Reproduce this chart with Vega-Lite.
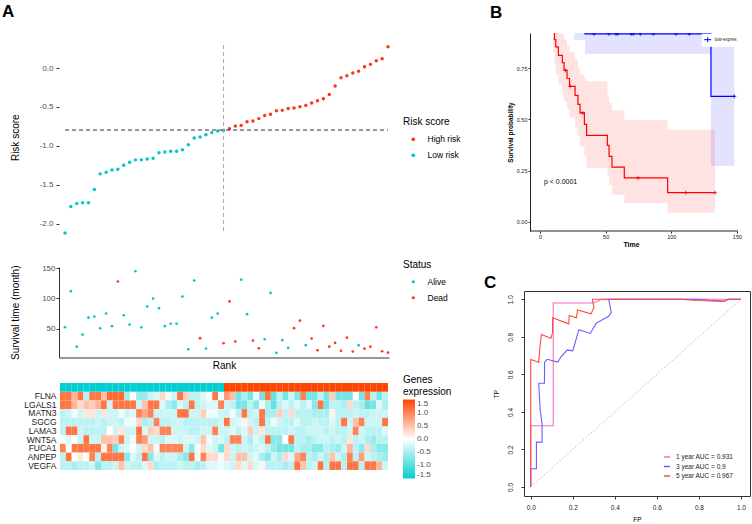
{
"$schema": "https://vega.github.io/schema/vega-lite/v6.json",
"padding": {"left": 2, "top": 3, "right": 0, "bottom": 0},
"background": "white",
"config": {
  "font": "Liberation Sans",
  "view": {"stroke": null},
  "axis": {"grid": false},
  "locale": {"number": {"decimal": ".", "thousands": ",", "grouping": [3], "currency": ["$", ""], "minus": "-"}}
},
"datasets": {
  "pts": [
    {"r":1,"k":-2.12,"g":"Low risk","t":52.2,"s":"Alive","FLNA":1.1,"LGALS1":1.1,"MATN3":-0.4,"SGCG":-0.4,"LAMA3":-0.4,"WNT5A":0.0,"FUCA1":1.0,"ANPEP":-0.4,"VEGFA":-0.4},
    {"r":2,"k":-1.78,"g":"Low risk","t":112,"s":"Alive","FLNA":1.1,"LGALS1":1.1,"MATN3":-0.3,"SGCG":-0.4,"LAMA3":1.1,"WNT5A":-0.2,"FUCA1":0.0,"ANPEP":1.1,"VEGFA":-0.4},
    {"r":3,"k":-1.74,"g":"Low risk","t":20,"s":"Alive","FLNA":0.6,"LGALS1":0.6,"MATN3":-0.1,"SGCG":-0.4,"LAMA3":1.1,"WNT5A":0.0,"FUCA1":1.1,"ANPEP":0.0,"VEGFA":-0.5},
    {"r":4,"k":-1.73,"g":"Low risk","t":40,"s":"Alive","FLNA":1.1,"LGALS1":0.3,"MATN3":-0.3,"SGCG":-0.4,"LAMA3":-0.3,"WNT5A":-0.3,"FUCA1":1.1,"ANPEP":0.2,"VEGFA":-0.4},
    {"r":5,"k":-1.73,"g":"Low risk","t":68,"s":"Alive","FLNA":-0.4,"LGALS1":0.5,"MATN3":0.2,"SGCG":-0.4,"LAMA3":-0.4,"WNT5A":1.1,"FUCA1":1.1,"ANPEP":0.0,"VEGFA":-0.4},
    {"r":6,"k":-1.56,"g":"Low risk","t":70,"s":"Alive","FLNA":1.1,"LGALS1":0.4,"MATN3":0.2,"SGCG":-0.4,"LAMA3":-0.4,"WNT5A":-0.3,"FUCA1":1.1,"ANPEP":1.0,"VEGFA":-0.3},
    {"r":7,"k":-1.36,"g":"Low risk","t":50.5,"s":"Alive","FLNA":1.1,"LGALS1":0.6,"MATN3":-0.3,"SGCG":-0.3,"LAMA3":-0.4,"WNT5A":-0.3,"FUCA1":1.1,"ANPEP":-0.4,"VEGFA":-0.7},
    {"r":8,"k":-1.34,"g":"Low risk","t":75,"s":"Alive","FLNA":0.5,"LGALS1":1.1,"MATN3":0.2,"SGCG":-0.4,"LAMA3":-0.4,"WNT5A":0.5,"FUCA1":0.1,"ANPEP":1.1,"VEGFA":-0.4},
    {"r":9,"k":-1.31,"g":"Low risk","t":54,"s":"Alive","FLNA":1.2,"LGALS1":-0.3,"MATN3":-0.3,"SGCG":-0.3,"LAMA3":0.0,"WNT5A":0.5,"FUCA1":1.0,"ANPEP":1.1,"VEGFA":-0.4},
    {"r":10,"k":-1.30,"g":"Low risk","t":128,"s":"Dead","FLNA":1.2,"LGALS1":1.1,"MATN3":-0.3,"SGCG":-0.3,"LAMA3":-0.3,"WNT5A":0.4,"FUCA1":-0.8,"ANPEP":1.1,"VEGFA":-0.3},
    {"r":11,"k":-1.25,"g":"Low risk","t":72,"s":"Alive","FLNA":1.2,"LGALS1":1.1,"MATN3":-0.1,"SGCG":-0.4,"LAMA3":0.2,"WNT5A":1.0,"FUCA1":-0.3,"ANPEP":1.1,"VEGFA":0.5},
    {"r":12,"k":-1.21,"g":"Low risk","t":56.6,"s":"Alive","FLNA":-0.5,"LGALS1":1.1,"MATN3":-0.3,"SGCG":-0.1,"LAMA3":-0.3,"WNT5A":-0.3,"FUCA1":-0.2,"ANPEP":-0.7,"VEGFA":-0.3},
    {"r":13,"k":-1.18,"g":"Low risk","t":145,"s":"Alive","FLNA":0.0,"LGALS1":1.1,"MATN3":-0.2,"SGCG":-0.1,"LAMA3":-0.3,"WNT5A":-0.1,"FUCA1":0.0,"ANPEP":-0.2,"VEGFA":-0.4},
    {"r":14,"k":-1.18,"g":"Low risk","t":52,"s":"Alive","FLNA":-0.6,"LGALS1":-0.3,"MATN3":1.0,"SGCG":0.3,"LAMA3":1.1,"WNT5A":1.0,"FUCA1":-0.3,"ANPEP":-0.4,"VEGFA":-0.4},
    {"r":15,"k":-1.17,"g":"Low risk","t":86.5,"s":"Alive","FLNA":-0.6,"LGALS1":0.5,"MATN3":0.7,"SGCG":-0.5,"LAMA3":-0.2,"WNT5A":0.8,"FUCA1":0.3,"ANPEP":1.1,"VEGFA":-0.2},
    {"r":16,"k":-1.16,"g":"Low risk","t":99.7,"s":"Alive","FLNA":-0.3,"LGALS1":1.1,"MATN3":1.0,"SGCG":-0.4,"LAMA3":0.4,"WNT5A":-0.3,"FUCA1":0.5,"ANPEP":-0.7,"VEGFA":0.3},
    {"r":17,"k":-1.09,"g":"Low risk","t":83.7,"s":"Alive","FLNA":-0.2,"LGALS1":1.1,"MATN3":-0.3,"SGCG":1.0,"LAMA3":0.3,"WNT5A":-0.3,"FUCA1":-0.1,"ANPEP":-0.2,"VEGFA":-0.5},
    {"r":18,"k":-1.08,"g":"Low risk","t":54,"s":"Alive","FLNA":0.3,"LGALS1":-0.2,"MATN3":-0.3,"SGCG":-0.4,"LAMA3":1.0,"WNT5A":-0.4,"FUCA1":1.0,"ANPEP":-0.4,"VEGFA":-0.4},
    {"r":19,"k":-1.07,"g":"Low risk","t":58,"s":"Alive","FLNA":-0.1,"LGALS1":-0.5,"MATN3":-0.3,"SGCG":-0.4,"LAMA3":1.0,"WNT5A":-0.2,"FUCA1":1.0,"ANPEP":-0.3,"VEGFA":-0.4},
    {"r":20,"k":-1.07,"g":"Low risk","t":58,"s":"Alive","FLNA":-0.3,"LGALS1":-0.7,"MATN3":-0.3,"SGCG":-0.3,"LAMA3":-0.3,"WNT5A":-0.2,"FUCA1":1.0,"ANPEP":-0.3,"VEGFA":-0.4},
    {"r":21,"k":-1.05,"g":"Low risk","t":103,"s":"Alive","FLNA":1.1,"LGALS1":-0.2,"MATN3":1.1,"SGCG":-0.3,"LAMA3":-0.3,"WNT5A":-0.3,"FUCA1":1.0,"ANPEP":-0.5,"VEGFA":-0.3},
    {"r":22,"k":-0.985,"g":"Low risk","t":15.7,"s":"Alive","FLNA":0.4,"LGALS1":-0.4,"MATN3":1.1,"SGCG":-0.4,"LAMA3":-0.3,"WNT5A":-0.2,"FUCA1":-0.3,"ANPEP":-0.7,"VEGFA":-0.4},
    {"r":23,"k":-0.90,"g":"Low risk","t":129.6,"s":"Alive","FLNA":-0.4,"LGALS1":1.1,"MATN3":-0.3,"SGCG":-0.4,"LAMA3":-0.4,"WNT5A":-0.2,"FUCA1":-0.7,"ANPEP":1.1,"VEGFA":-0.4},
    {"r":24,"k":-0.886,"g":"Low risk","t":34,"s":"Dead","FLNA":-0.4,"LGALS1":-0.4,"MATN3":-0.3,"SGCG":-0.4,"LAMA3":-0.4,"WNT5A":-0.3,"FUCA1":-0.1,"ANPEP":-0.1,"VEGFA":-0.5},
    {"r":25,"k":-0.857,"g":"Low risk","t":17,"s":"Alive","FLNA":-0.2,"LGALS1":-0.3,"MATN3":0.4,"SGCG":-0.4,"LAMA3":-0.3,"WNT5A":0.5,"FUCA1":0.3,"ANPEP":1.0,"VEGFA":-0.4},
    {"r":26,"k":-0.83,"g":"Low risk","t":68,"s":"Alive","FLNA":0.0,"LGALS1":-0.2,"MATN3":-0.1,"SGCG":-0.4,"LAMA3":-0.3,"WNT5A":-0.1,"FUCA1":-0.2,"ANPEP":0.3,"VEGFA":-0.2},
    {"r":27,"k":-0.81,"g":"Low risk","t":75,"s":"Alive","FLNA":1.1,"LGALS1":-0.2,"MATN3":-0.1,"SGCG":-0.4,"LAMA3":1.0,"WNT5A":-0.3,"FUCA1":-0.3,"ANPEP":0.3,"VEGFA":-0.2},
    {"r":28,"k":-0.80,"g":"Low risk","t":25.7,"s":"Dead","FLNA":-0.1,"LGALS1":1.0,"MATN3":-0.3,"SGCG":-0.3,"LAMA3":-0.3,"WNT5A":-0.2,"FUCA1":-0.8,"ANPEP":-0.1,"VEGFA":-0.1},
    {"r":29,"k":-0.78,"g":"High risk","t":95,"s":"Dead","FLNA":0.8,"LGALS1":-0.3,"MATN3":-0.3,"SGCG":1.1,"LAMA3":-0.3,"WNT5A":-0.4,"FUCA1":0.3,"ANPEP":0.3,"VEGFA":-0.2},
    {"r":30,"k":-0.745,"g":"High risk","t":28.5,"s":"Dead","FLNA":0.5,"LGALS1":-0.4,"MATN3":-0.1,"SGCG":-0.3,"LAMA3":-0.2,"WNT5A":1.0,"FUCA1":-0.3,"ANPEP":-0.3,"VEGFA":-0.3},
    {"r":31,"k":-0.737,"g":"High risk","t":131,"s":"Alive","FLNA":-0.8,"LGALS1":-0.8,"MATN3":-0.4,"SGCG":-0.2,"LAMA3":-0.4,"WNT5A":1.0,"FUCA1":-0.4,"ANPEP":0.5,"VEGFA":0.3},
    {"r":32,"k":-0.69,"g":"High risk","t":73.8,"s":"Alive","FLNA":-0.5,"LGALS1":-0.8,"MATN3":1.1,"SGCG":0.1,"LAMA3":-0.2,"WNT5A":-0.3,"FUCA1":-0.3,"ANPEP":0.5,"VEGFA":-0.2},
    {"r":33,"k":-0.68,"g":"High risk","t":30,"s":"Dead","FLNA":-0.8,"LGALS1":-0.4,"MATN3":-0.4,"SGCG":-0.3,"LAMA3":0.4,"WNT5A":-0.5,"FUCA1":-0.4,"ANPEP":-0.3,"VEGFA":0.3},
    {"r":34,"k":-0.65,"g":"High risk","t":17.4,"s":"Dead","FLNA":-0.1,"LGALS1":-0.7,"MATN3":-0.3,"SGCG":-0.4,"LAMA3":-0.3,"WNT5A":-0.2,"FUCA1":-0.3,"ANPEP":-0.2,"VEGFA":-0.2},
    {"r":35,"k":-0.61,"g":"High risk","t":32.3,"s":"Alive","FLNA":-0.8,"LGALS1":-0.1,"MATN3":1.1,"SGCG":1.1,"LAMA3":0.2,"WNT5A":-0.4,"FUCA1":-0.2,"ANPEP":-0.5,"VEGFA":0.1},
    {"r":36,"k":-0.595,"g":"High risk","t":109,"s":"Alive","FLNA":1.1,"LGALS1":-0.5,"MATN3":-0.5,"SGCG":-0.4,"LAMA3":-0.4,"WNT5A":1.1,"FUCA1":-0.4,"ANPEP":-0.7,"VEGFA":-0.4},
    {"r":37,"k":-0.55,"g":"High risk","t":9.7,"s":"Alive","FLNA":-0.9,"LGALS1":-0.9,"MATN3":-0.5,"SGCG":-0.1,"LAMA3":-0.4,"WNT5A":-0.7,"FUCA1":-0.6,"ANPEP":-0.3,"VEGFA":-0.4},
    {"r":38,"k":-0.544,"g":"High risk","t":30.7,"s":"Alive","FLNA":-0.4,"LGALS1":-0.4,"MATN3":0.4,"SGCG":-0.3,"LAMA3":-0.4,"WNT5A":-0.7,"FUCA1":-0.8,"ANPEP":-0.5,"VEGFA":-0.4},
    {"r":39,"k":-0.52,"g":"High risk","t":18,"s":"Alive","FLNA":-0.8,"LGALS1":-0.2,"MATN3":-0.4,"SGCG":-0.4,"LAMA3":-0.4,"WNT5A":0.0,"FUCA1":-0.8,"ANPEP":0.3,"VEGFA":-0.5},
    {"r":40,"k":-0.514,"g":"High risk","t":50.6,"s":"Dead","FLNA":-0.3,"LGALS1":-0.4,"MATN3":0.3,"SGCG":-0.4,"LAMA3":-0.3,"WNT5A":1.1,"FUCA1":-0.8,"ANPEP":-0.2,"VEGFA":-0.4},
    {"r":41,"k":-0.497,"g":"High risk","t":63,"s":"Dead","FLNA":-0.7,"LGALS1":-0.2,"MATN3":-0.4,"SGCG":-0.2,"LAMA3":-0.4,"WNT5A":-0.4,"FUCA1":-0.4,"ANPEP":0.7,"VEGFA":1.1},
    {"r":42,"k":-0.48,"g":"High risk","t":22.4,"s":"Alive","FLNA":1.0,"LGALS1":-0.4,"MATN3":-0.4,"SGCG":-0.4,"LAMA3":-0.4,"WNT5A":-0.4,"FUCA1":-0.5,"ANPEP":1.0,"VEGFA":0.5},
    {"r":43,"k":-0.45,"g":"High risk","t":33.4,"s":"Dead","FLNA":-0.8,"LGALS1":-0.2,"MATN3":-0.4,"SGCG":-0.4,"LAMA3":-0.3,"WNT5A":-0.5,"FUCA1":-0.5,"ANPEP":-0.4,"VEGFA":-0.4},
    {"r":44,"k":-0.42,"g":"High risk","t":14,"s":"Dead","FLNA":-0.8,"LGALS1":-0.7,"MATN3":-0.5,"SGCG":-0.3,"LAMA3":-0.3,"WNT5A":-0.4,"FUCA1":-0.7,"ANPEP":-0.5,"VEGFA":-0.3},
    {"r":45,"k":-0.394,"g":"High risk","t":54.4,"s":"Dead","FLNA":-0.4,"LGALS1":1.1,"MATN3":-0.5,"SGCG":-0.4,"LAMA3":-0.3,"WNT5A":-0.3,"FUCA1":-0.7,"ANPEP":-0.3,"VEGFA":1.1},
    {"r":46,"k":-0.34,"g":"High risk","t":20,"s":"Dead","FLNA":-0.8,"LGALS1":-0.8,"MATN3":-0.5,"SGCG":-0.4,"LAMA3":-0.4,"WNT5A":-0.3,"FUCA1":-0.4,"ANPEP":-0.5,"VEGFA":-0.4},
    {"r":47,"k":-0.23,"g":"High risk","t":26.2,"s":"Dead","FLNA":0.4,"LGALS1":-0.4,"MATN3":0.1,"SGCG":-0.2,"LAMA3":-0.3,"WNT5A":-0.4,"FUCA1":-0.5,"ANPEP":0.5,"VEGFA":1.1},
    {"r":48,"k":-0.124,"g":"High risk","t":13,"s":"Dead","FLNA":-0.8,"LGALS1":-0.4,"MATN3":-0.4,"SGCG":-0.4,"LAMA3":-0.4,"WNT5A":-0.3,"FUCA1":-0.6,"ANPEP":-0.3,"VEGFA":1.1},
    {"r":49,"k":-0.10,"g":"High risk","t":35,"s":"Dead","FLNA":-0.8,"LGALS1":-0.5,"MATN3":-0.4,"SGCG":1.1,"LAMA3":-0.4,"WNT5A":-0.4,"FUCA1":-0.3,"ANPEP":-0.5,"VEGFA":-0.4},
    {"r":50,"k":-0.064,"g":"High risk","t":11.9,"s":"Dead","FLNA":-0.8,"LGALS1":0.3,"MATN3":-0.4,"SGCG":-0.3,"LAMA3":-0.3,"WNT5A":0.2,"FUCA1":0.6,"ANPEP":1.0,"VEGFA":1.1},
    {"r":51,"k":-0.04,"g":"High risk","t":22.4,"s":"Alive","FLNA":0.0,"LGALS1":-0.4,"MATN3":-0.3,"SGCG":0.5,"LAMA3":1.0,"WNT5A":-0.4,"FUCA1":-0.4,"ANPEP":-0.4,"VEGFA":1.1},
    {"r":52,"k":0.017,"g":"High risk","t":16.8,"s":"Dead","FLNA":-0.8,"LGALS1":-0.5,"MATN3":-0.4,"SGCG":1.0,"LAMA3":-0.3,"WNT5A":-0.3,"FUCA1":-0.7,"ANPEP":0.8,"VEGFA":-0.4},
    {"r":53,"k":0.047,"g":"High risk","t":20,"s":"Dead","FLNA":1.0,"LGALS1":-0.9,"MATN3":-0.4,"SGCG":-0.3,"LAMA3":-0.4,"WNT5A":-0.5,"FUCA1":0.3,"ANPEP":-0.3,"VEGFA":1.1},
    {"r":54,"k":0.094,"g":"High risk","t":52,"s":"Dead","FLNA":-0.4,"LGALS1":-0.8,"MATN3":-0.3,"SGCG":-0.3,"LAMA3":-0.4,"WNT5A":-0.6,"FUCA1":-0.5,"ANPEP":-0.4,"VEGFA":1.1},
    {"r":55,"k":0.12,"g":"High risk","t":12.4,"s":"Dead","FLNA":-0.8,"LGALS1":-0.2,"MATN3":-0.3,"SGCG":-0.3,"LAMA3":-0.4,"WNT5A":-0.4,"FUCA1":-0.7,"ANPEP":-0.5,"VEGFA":0.6},
    {"r":56,"k":0.274,"g":"High risk","t":10.2,"s":"Dead","FLNA":-0.4,"LGALS1":-0.5,"MATN3":-0.3,"SGCG":1.1,"LAMA3":-0.2,"WNT5A":-0.4,"FUCA1":-0.7,"ANPEP":-0.6,"VEGFA":-0.3}
  ],
  "km": [
    {"grp":"high","t":0,"s":1,"lo":1,"hi":1},
    {"grp":"high","t":10,"s":0.93,"lo":0.83,"hi":1},
    {"grp":"high","t":11,"s":0.89,"lo":0.77,"hi":0.99},
    {"grp":"high","t":12,"s":0.854,"lo":0.72,"hi":0.97},
    {"grp":"high","t":14,"s":0.813,"lo":0.67,"hi":0.94},
    {"grp":"high","t":17,"s":0.777,"lo":0.63,"hi":0.915},
    {"grp":"high","t":18.3,"s":0.74,"lo":0.59,"hi":0.89},
    {"grp":"high","t":20.6,"s":0.70,"lo":0.55,"hi":0.86},
    {"grp":"high","t":22.5,"s":0.662,"lo":0.51,"hi":0.83},
    {"grp":"high","t":26.7,"s":0.618,"lo":0.46,"hi":0.79},
    {"grp":"high","t":28.9,"s":0.574,"lo":0.42,"hi":0.75},
    {"grp":"high","t":30.5,"s":0.532,"lo":0.37,"hi":0.72},
    {"grp":"high","t":33.8,"s":0.476,"lo":0.32,"hi":0.70},
    {"grp":"high","t":35.5,"s":0.423,"lo":0.263,"hi":0.686},
    {"grp":"high","t":51.3,"s":0.374,"lo":0.23,"hi":0.62},
    {"grp":"high","t":52.6,"s":0.32,"lo":0.18,"hi":0.58},
    {"grp":"high","t":54.8,"s":0.268,"lo":0.133,"hi":0.545},
    {"grp":"high","t":64.2,"s":0.215,"lo":0.093,"hi":0.496},
    {"grp":"high","t":97.2,"s":0.143,"lo":0.045,"hi":0.45},
    {"grp":"high","t":133.3,"s":0.143,"lo":0.045,"hi":0.45},
    {"grp":"low","t":0,"s":1,"lo":1,"hi":1},
    {"grp":"low","t":26.1,"s":0.96,"lo":0.888,"hi":1},
    {"grp":"low","t":34.3,"s":0.918,"lo":0.82,"hi":1},
    {"grp":"low","t":130.2,"s":0.613,"lo":0.273,"hi":0.865},
    {"grp":"low","t":148,"s":0.613,"lo":0.273,"hi":0.865}
  ],
  "kmc": [
    {"grp":"high","t":19.5,"s":0.74},{"grp":"high","t":23,"s":0.662},{"grp":"high","t":32.5,"s":0.532},
    {"grp":"high","t":74.7,"s":0.215},{"grp":"high","t":111,"s":0.143},{"grp":"high","t":133.3,"s":0.143},
    {"grp":"low","t":41.1,"s":0.918},{"grp":"low","t":52.5,"s":0.918},{"grp":"low","t":57.8,"s":0.918},
    {"grp":"low","t":59.1,"s":0.918},{"grp":"low","t":69.5,"s":0.918},{"grp":"low","t":71.1,"s":0.918},
    {"grp":"low","t":76.4,"s":0.918},{"grp":"low","t":86.3,"s":0.918},{"grp":"low","t":103.6,"s":0.918},
    {"grp":"low","t":113.7,"s":0.918},{"grp":"low","t":148,"s":0.613}
  ],
  "roc": [
    {"c":"1 year AUC = 0.931","i":1,"fp":0,"tp":0},
    {"c":"1 year AUC = 0.931","i":2,"fp":0,"tp":0.326},
    {"c":"1 year AUC = 0.931","i":3,"fp":0.107,"tp":0.326},
    {"c":"1 year AUC = 0.931","i":4,"fp":0.107,"tp":0.98},
    {"c":"1 year AUC = 0.931","i":5,"fp":0.29,"tp":0.98},
    {"c":"1 year AUC = 0.931","i":6,"fp":0.31,"tp":0.985},
    {"c":"1 year AUC = 0.931","i":7,"fp":0.337,"tp":1.0},
    {"c":"1 year AUC = 0.931","i":8,"fp":1,"tp":1},
    {"c":"3 year AUC = 0.9","i":1,"fp":0,"tp":0},
    {"c":"3 year AUC = 0.9","i":2,"fp":0,"tp":0.097},
    {"c":"3 year AUC = 0.9","i":3,"fp":0.027,"tp":0.097},
    {"c":"3 year AUC = 0.9","i":4,"fp":0.027,"tp":0.239},
    {"c":"3 year AUC = 0.9","i":5,"fp":0.054,"tp":0.239},
    {"c":"3 year AUC = 0.9","i":6,"fp":0.054,"tp":0.336},
    {"c":"3 year AUC = 0.9","i":7,"fp":0.045,"tp":0.41},
    {"c":"3 year AUC = 0.9","i":8,"fp":0.038,"tp":0.553},
    {"c":"3 year AUC = 0.9","i":9,"fp":0.065,"tp":0.553},
    {"c":"3 year AUC = 0.9","i":10,"fp":0.066,"tp":0.665},
    {"c":"3 year AUC = 0.9","i":11,"fp":0.078,"tp":0.68},
    {"c":"3 year AUC = 0.9","i":12,"fp":0.129,"tp":0.665},
    {"c":"3 year AUC = 0.9","i":13,"fp":0.145,"tp":0.695},
    {"c":"3 year AUC = 0.9","i":14,"fp":0.174,"tp":0.73},
    {"c":"3 year AUC = 0.9","i":15,"fp":0.2,"tp":0.725},
    {"c":"3 year AUC = 0.9","i":16,"fp":0.229,"tp":0.838},
    {"c":"3 year AUC = 0.9","i":17,"fp":0.283,"tp":0.818},
    {"c":"3 year AUC = 0.9","i":18,"fp":0.312,"tp":0.873},
    {"c":"3 year AUC = 0.9","i":19,"fp":0.371,"tp":0.909},
    {"c":"3 year AUC = 0.9","i":20,"fp":0.383,"tp":0.93},
    {"c":"3 year AUC = 0.9","i":21,"fp":0.371,"tp":1.0},
    {"c":"3 year AUC = 0.9","i":22,"fp":0.8,"tp":1.0},
    {"c":"3 year AUC = 0.9","i":23,"fp":0.85,"tp":0.995},
    {"c":"3 year AUC = 0.9","i":24,"fp":0.92,"tp":0.99},
    {"c":"3 year AUC = 0.9","i":25,"fp":0.94,"tp":1.0},
    {"c":"3 year AUC = 0.9","i":26,"fp":1,"tp":1},
    {"c":"5 year AUC = 0.967","i":1,"fp":0,"tp":0},
    {"c":"5 year AUC = 0.967","i":2,"fp":0,"tp":0.679},
    {"c":"5 year AUC = 0.967","i":3,"fp":0.038,"tp":0.665},
    {"c":"5 year AUC = 0.967","i":4,"fp":0.043,"tp":0.736},
    {"c":"5 year AUC = 0.967","i":5,"fp":0.051,"tp":0.812},
    {"c":"5 year AUC = 0.967","i":6,"fp":0.096,"tp":0.792},
    {"c":"5 year AUC = 0.967","i":7,"fp":0.104,"tp":0.824},
    {"c":"5 year AUC = 0.967","i":8,"fp":0.104,"tp":0.901},
    {"c":"5 year AUC = 0.967","i":9,"fp":0.181,"tp":0.869},
    {"c":"5 year AUC = 0.967","i":10,"fp":0.183,"tp":0.914},
    {"c":"5 year AUC = 0.967","i":11,"fp":0.218,"tp":0.901},
    {"c":"5 year AUC = 0.967","i":12,"fp":0.222,"tp":0.943},
    {"c":"5 year AUC = 0.967","i":13,"fp":0.287,"tp":0.922},
    {"c":"5 year AUC = 0.967","i":14,"fp":0.301,"tp":0.957},
    {"c":"5 year AUC = 0.967","i":15,"fp":0.293,"tp":1.0},
    {"c":"5 year AUC = 0.967","i":16,"fp":0.71,"tp":1.0},
    {"c":"5 year AUC = 0.967","i":17,"fp":0.79,"tp":0.993},
    {"c":"5 year AUC = 0.967","i":18,"fp":0.92,"tp":0.988},
    {"c":"5 year AUC = 0.967","i":19,"fp":0.94,"tp":1.0},
    {"c":"5 year AUC = 0.967","i":20,"fp":1,"tp":1}
  ]
},
"bounds": "flush",
"spacing": 465,
"resolve": {"scale": {"color": "independent"}, "legend": {"color": "independent"}},
"hconcat": [
  {
    "bounds": "flush",
    "spacing": 25,
    "resolve": {"scale": {"color": "independent"}, "legend": {"color": "independent"}},
    "vconcat": [
      {
        "width": 330, "height": 208.5,
        "title": {"text": "A", "anchor": "start", "frame": "group", "dx": -57, "dy": 15, "offset": 14, "baseline": "alphabetic", "fontSize": 17, "fontWeight": "bold", "color": "black"},
        "layer": [
          {"data": {"name": "pts"}, "mark": {"type": "circle", "size": 12, "opacity": 1},
           "encoding": {
             "x": {"field": "r", "type": "quantitative", "scale": {"domain": [-0.02, 56.17], "nice": false, "zero": false}, "axis": null},
             "y": {"field": "k", "type": "quantitative", "scale": {"domain": [-2.229, 0.45], "nice": false, "zero": false},
                   "axis": {"values": [-2, -1.5, -1, -0.5, 0], "format": ".1f", "title": "Risk score", "titleFontSize": 10, "titleFontWeight": "normal", "titleColor": "black", "titlePadding": 19, "labelFontSize": 8, "labelColor": "#4d4d4d", "tickSize": 3, "tickColor": "#333333", "labelPadding": 3, "domain": false}},
             "color": {"field": "g", "type": "nominal", "scale": {"domain": ["High risk", "Low risk"], "range": ["#FF3319", "#00C5CD"]},
                       "legend": {"orient": "none", "legendX": 344, "legendY": 84, "title": "Risk score", "titleFontSize": 10, "titleFontWeight": "normal", "titleColor": "black", "titlePadding": 8, "labelFontSize": 8.5, "labelColor": "black", "symbolType": "circle", "symbolSize": 14, "symbolStrokeWidth": 0, "symbolOpacity": 1, "rowPadding": 7, "symbolOffset": 6, "labelOffset": 10, "padding": 0}}
           }},
          {"data": {"values": [{}]}, "mark": {"type": "rule", "color": "#333333", "strokeDash": [4, 3], "strokeWidth": 1},
           "encoding": {"x": {"datum": 1, "type": "quantitative"}, "x2": {"datum": 56}, "y": {"datum": -0.797, "type": "quantitative"}}},
          {"data": {"values": [{}]}, "mark": {"type": "rule", "color": "#aaaaaa", "strokeDash": [4, 3], "strokeWidth": 1},
           "encoding": {"x": {"datum": 28, "type": "quantitative"}, "y": {"datum": 0.296, "type": "quantitative"}, "y2": {"datum": -2.128}}}
        ]
      },
      {
        "width": 330, "height": 90.5,
        "data": {"name": "pts"},
        "mark": {"type": "circle", "size": 7, "opacity": 1},
        "encoding": {
          "x": {"field": "r", "type": "quantitative", "scale": {"domain": [-0.02, 56.17], "nice": false, "zero": false},
                "axis": {"title": "Rank", "labels": false, "ticks": false, "domain": true, "domainColor": "black", "domainWidth": 0.8, "titleFontSize": 10, "titleFontWeight": "normal", "titleColor": "black", "titlePadding": 3}},
          "y": {"field": "t", "type": "quantitative", "scale": {"domain": [2, 152], "nice": false, "zero": false},
                "axis": {"values": [50, 100, 150], "title": "Survival time (month)", "titleFontSize": 10, "titleFontWeight": "normal", "titleColor": "black", "titlePadding": 21, "labelFontSize": 8, "labelColor": "#4d4d4d", "tickSize": 3, "tickColor": "#333333", "labelPadding": 1, "domainColor": "black", "domainWidth": 0.8}},
          "color": {"field": "s", "type": "nominal", "scale": {"domain": ["Alive", "Dead"], "range": ["#00C5CD", "#FF3319"]},
                    "legend": {"orient": "none", "legendX": 344, "legendY": -7.5, "title": "Status", "titleFontSize": 10, "titleFontWeight": "normal", "titleColor": "black", "titlePadding": 8, "labelFontSize": 8.5, "labelColor": "black", "symbolType": "circle", "symbolSize": 10, "symbolStrokeWidth": 0, "symbolOpacity": 1, "rowPadding": 7, "symbolOffset": 6, "labelOffset": 10, "padding": 0}}
        }
      },
      {
        "width": 330, "height": 87,
        "data": {"name": "pts"},
        "layer": [
          {"transform": [{"fold": ["FLNA", "LGALS1", "MATN3", "SGCG", "LAMA3", "WNT5A", "FUCA1", "ANPEP", "VEGFA"], "as": ["gene", "v"]}],
           "mark": {"type": "rect"},
           "encoding": {
             "x": {"field": "r", "type": "ordinal", "scale": {"paddingInner": 0, "paddingOuter": 0.17}, "axis": null},
             "y": {"field": "gene", "type": "nominal", "scale": {"domain": ["Risk", "FLNA", "LGALS1", "MATN3", "SGCG", "LAMA3", "WNT5A", "FUCA1", "ANPEP", "VEGFA"], "paddingInner": 0, "paddingOuter": 0},
                   "axis": {"title": null, "ticks": false, "domain": false, "labelFontSize": 8.5, "labelColor": "#222222", "labelPadding": 3, "labelExpr": "datum.value == 'Risk' ? '' : datum.value"}},
             "color": {"field": "v", "type": "quantitative", "scale": {"domain": [-1.5, 0, 1.5], "range": ["#00CED1", "#FFFFFF", "#FF4500"], "interpolate": "rgb"},
                       "legend": {"orient": "none", "legendX": 344, "legendY": -8.5, "title": ["Genes", "expression"], "titleFontSize": 10, "titleFontWeight": "normal", "titleColor": "black", "titlePadding": 3, "gradientLength": 79, "gradientThickness": 12, "gradientStrokeWidth": 0, "values": [-1.5, -1, -0.5, 0, 0.5, 1, 1.5], "format": ".1f", "labelFontSize": 8, "labelColor": "#4d4d4d", "labelOverlap": false, "direction": "vertical", "padding": 0}}
           }},
          {"mark": {"type": "rect"},
           "encoding": {
             "x": {"field": "r", "type": "ordinal"},
             "y": {"datum": "Risk", "type": "nominal"},
             "color": {"field": "g", "type": "nominal", "scale": {"domain": ["High risk", "Low risk"], "range": ["#FF4500", "#00CED1"]}, "legend": null}
           }}
        ],
        "resolve": {"scale": {"color": "independent"}, "legend": {"color": "independent"}}
      }
    ]
  },
  {
    "bounds": "flush",
    "spacing": 60,
    "resolve": {"scale": {"color": "independent"}, "legend": {"color": "independent"}},
    "vconcat": [
      {
        "width": 214, "height": 198,
        "title": {"text": "B", "anchor": "start", "frame": "group", "dx": -34, "dy": 15, "offset": 13, "baseline": "alphabetic", "fontSize": 17, "fontWeight": "bold", "color": "black"},
        "layer": [
          {"data": {"name": "km"}, "mark": {"type": "area", "interpolate": "step-after", "clip": true, "opacity": 0.11},
           "encoding": {
             "x": {"field": "t", "type": "quantitative", "scale": {"domain": [-12.19, 150.8], "nice": false, "zero": false},
                   "axis": {"values": [0, 50, 100, 150], "title": "Time", "titleFontSize": 7, "titleFontWeight": "bold", "titleColor": "black", "titlePadding": 1, "labelFontSize": 5.5, "labelColor": "#222222", "tickSize": 2, "tickColor": "#222222", "labelPadding": 1, "domain": false}},
             "y": {"field": "lo", "type": "quantitative", "scale": {"domain": [-0.044, 0.922], "nice": false, "zero": false},
                   "axis": {"values": [0, 0.25, 0.5, 0.75], "format": ".2f", "title": "Survival probability", "titleFontSize": 6.5, "titleFontWeight": "bold", "titleColor": "black", "titlePadding": 3, "labelFontSize": 5.5, "labelColor": "#222222", "tickSize": 2, "tickColor": "#222222", "labelPadding": 1, "domainColor": "#222222", "domainWidth": 1, "offset": -6}},
             "y2": {"field": "hi"},
             "color": {"field": "grp", "type": "nominal", "scale": {"domain": ["high", "low"], "range": ["#FF0000", "#0000FF"]},
                       "legend": {"orient": "none", "legendX": 177.7, "legendY": 0.7, "title": null, "values": ["low"], "labelExpr": "'low-expres'", "fillColor": "white", "padding": 2, "labelFontSize": 4.5, "labelColor": "#222222", "symbolType": "M-1,0H1M0,-0.7V0.7", "symbolSize": 49, "symbolStrokeColor": "#0000FF", "symbolFillColor": "transparent", "symbolStrokeWidth": 1, "symbolOpacity": 1, "labelOffset": 3}}
           }},
          {"data": {"name": "km"}, "mark": {"type": "line", "interpolate": "step-after", "clip": true, "strokeWidth": 1.2},
           "encoding": {
             "x": {"field": "t", "type": "quantitative"},
             "y": {"field": "s", "type": "quantitative"},
             "color": {"field": "grp", "type": "nominal"}
           }},
          {"data": {"name": "kmc"}, "mark": {"type": "point", "shape": "M-1,0H1M0,-1V1", "size": 16, "strokeWidth": 0.8, "filled": false, "clip": true, "opacity": 1},
           "encoding": {
             "x": {"field": "t", "type": "quantitative"},
             "y": {"field": "s", "type": "quantitative"},
             "color": {"field": "grp", "type": "nominal"}
           }},
          {"data": {"values": [{}]}, "mark": {"type": "rule", "color": "#222222", "strokeWidth": 1},
           "encoding": {"x": {"datum": -7.6, "type": "quantitative"}, "x2": {"datum": 150.8}, "y": {"datum": -0.044, "type": "quantitative"}}},
          {"data": {"values": [{}]}, "mark": {"type": "text", "align": "left", "baseline": "middle", "fontSize": 7, "color": "black"},
           "encoding": {"x": {"datum": 3, "type": "quantitative"}, "y": {"datum": 0.195, "type": "quantitative"}, "text": {"value": "p < 0.0001"}}}
        ]
      },
      {
        "width": 226, "height": 205,
        "view": {"stroke": "#333333", "strokeWidth": 1},
        "title": {"text": "C", "anchor": "start", "frame": "group", "dx": -40, "dy": 15, "offset": 1, "baseline": "alphabetic", "fontSize": 17, "fontWeight": "bold", "color": "black"},
        "layer": [
          {"data": {"name": "roc"}, "mark": {"type": "line", "strokeWidth": 1.1},
           "encoding": {
             "x": {"field": "fp", "type": "quantitative", "scale": {"domain": [-0.032, 1.043], "nice": false, "zero": false},
                   "axis": {"values": [0, 0.2, 0.4, 0.6, 0.8, 1], "format": ".1f", "title": "FP", "titleFontSize": 6.5, "titleFontWeight": "normal", "titleColor": "black", "titlePadding": 6, "labelFontSize": 6.5, "labelColor": "#222222", "tickSize": 3, "tickColor": "#333333", "labelPadding": 5, "domain": false}},
             "y": {"field": "tp", "type": "quantitative", "scale": {"domain": [-0.048, 1.044], "nice": false, "zero": false},
                   "axis": {"values": [0, 0.2, 0.4, 0.6, 0.8, 1], "format": ".1f", "title": "TP", "titleFontSize": 6.5, "titleFontWeight": "normal", "titleColor": "black", "titlePadding": 8, "labelFontSize": 6.5, "labelColor": "#222222", "tickSize": 3, "tickColor": "#333333", "labelPadding": 8, "labelAngle": -90, "labelAlign": "center", "labelBaseline": "bottom", "domain": false}},
             "order": {"field": "i", "type": "quantitative"},
             "color": {"field": "c", "type": "nominal", "scale": {"domain": ["1 year AUC = 0.931", "3 year AUC = 0.9", "5 year AUC = 0.967"], "range": ["#FF69C8", "#6A5CFF", "#FF4A3A"]},
                       "legend": {"orient": "none", "legendX": 139, "legendY": 162, "title": null, "labelFontSize": 6.5, "labelColor": "#222222", "symbolType": "stroke", "symbolSize": 36, "symbolStrokeWidth": 1.5, "rowPadding": 1.5, "labelOffset": 5, "padding": 0}}
           }},
          {"data": {"values": [{}]}, "mark": {"type": "rule", "color": "#aaaaaa", "strokeDash": [1.5, 2], "strokeWidth": 0.8},
           "encoding": {"x": {"datum": 0, "type": "quantitative"}, "y": {"datum": 0, "type": "quantitative"}, "x2": {"datum": 1}, "y2": {"datum": 1}}}
        ]
      }
    ]
  }
]
}
